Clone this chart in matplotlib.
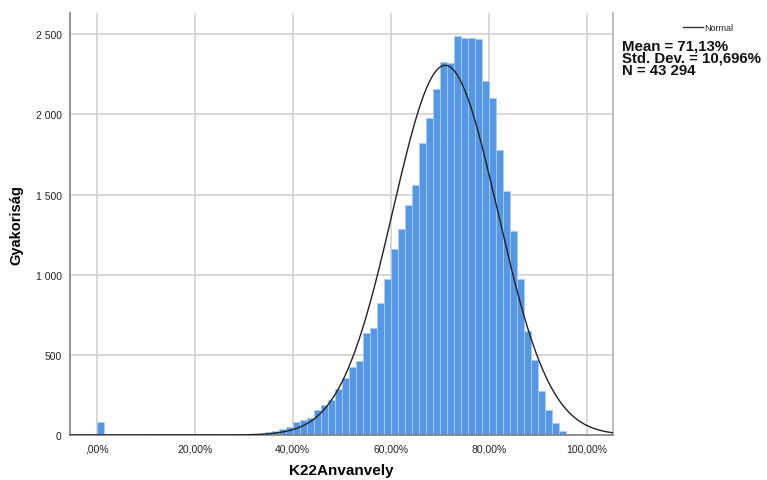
import numpy as np
import matplotlib
matplotlib.use("Agg")
import matplotlib.pyplot as plt

# ---- data ----
bin_width = 100.0 / 70.0
counts = [78, 0, 0, 0, 0, 0, 0, 2, 3, 2,
          3, 2, 1, 2, 1, 2, 2, 3, 2, 2,
          4, 4, 6, 8, 17, 25, 35, 52, 83, 96,
          108, 158, 189, 220, 287, 358, 422, 464, 637, 670,
          824, 973, 1161, 1283, 1437, 1562, 1824, 1980, 2161, 2330,
          2321, 2492, 2479, 2477, 2469, 2207, 2103, 1778, 1523, 1271,
          976, 647, 468, 275, 156, 73, 25, 8, 2, 0]
mean_val = 71.13
std_val = 10.696
n_val = 43294
x_ticks = [0, 20, 40, 60, 80, 100]
x_ticklabels = [",00%", "20,00%", "40,00%", "60,00%", "80,00%", "100,00%"]
y_ticks = [0, 500, 1000, 1500, 2000, 2500]
y_ticklabels = ["0", "500", "1 000", "1 500", "2 000", "2 500"]
x_label = "K22Anvanvely"
y_label = "Gyakoriság"
stats = ["Mean = 71,13%", "Std. Dev. = 10,696%", "N = 43 294"]

plt.rcParams['font.family'] = ['Liberation Sans', 'DejaVu Sans']

W, H = 767, 481
fig = plt.figure(figsize=(W / 100, H / 100), dpi=100)
ax = fig.add_axes([70 / W, 1 - 436 / H, (613 - 70) / W, (436 - 14) / H])

edges = np.arange(len(counts)) * bin_width
ax.bar(edges, counts, width=bin_width, align='edge', color='#5597e4',
       edgecolor='#a9ccf3', linewidth=0.6, zorder=2)

xmin, xmax = -5.5, 105.4
xs = np.linspace(xmin, xmax, 600)
pdf = n_val * bin_width / (std_val * np.sqrt(2 * np.pi)) * np.exp(-0.5 * ((xs - mean_val) / std_val) ** 2)
ax.plot(xs, pdf, color='#222222', linewidth=1.0, zorder=3)

ax.set_xlim(xmin, xmax)
ax.set_ylim(0, 2633)
ax.set_xticks(x_ticks)
ax.set_xticklabels(x_ticklabels)
ax.set_yticks(y_ticks)
ax.set_yticklabels(y_ticklabels)
ax.tick_params(length=0, labelsize=7.5, colors='#222222', pad=6)
ax.tick_params(axis='x', pad=6)
ax.grid(True, color='#d6d6d6', linewidth=1.3, zorder=0)
ax.set_axisbelow(True)
ax.spines['top'].set_visible(False)
ax.spines['right'].set_color('#b0b0b0')
ax.spines['left'].set_color('#808080')
ax.spines['bottom'].set_color('#808080')
for s in ['left', 'bottom', 'right']:
    ax.spines[s].set_linewidth(1.2)

ax.set_xlabel(x_label, fontsize=11, fontweight='bold', labelpad=7)
ax.set_ylabel(y_label, fontsize=10.5, fontweight='bold', labelpad=9)

# legend & stats
fig.lines.append(plt.Line2D([683 / W, 703 / W], [1 - 28.3 / H, 1 - 28.3 / H],
                            transform=fig.transFigure, color='#333333', linewidth=1.0))
fig.text(704 / W, 1 - 28.3 / H, "Normal", fontsize=6.5, va='center', ha='left', color='#222222')
fig.text(622 / W, 1 - 39.5 / H, "\n".join(stats), fontsize=10.8, fontweight='bold',
         va='top', ha='left', color='#111111', linespacing=0.86)

fig.savefig("out.png", dpi=100)
